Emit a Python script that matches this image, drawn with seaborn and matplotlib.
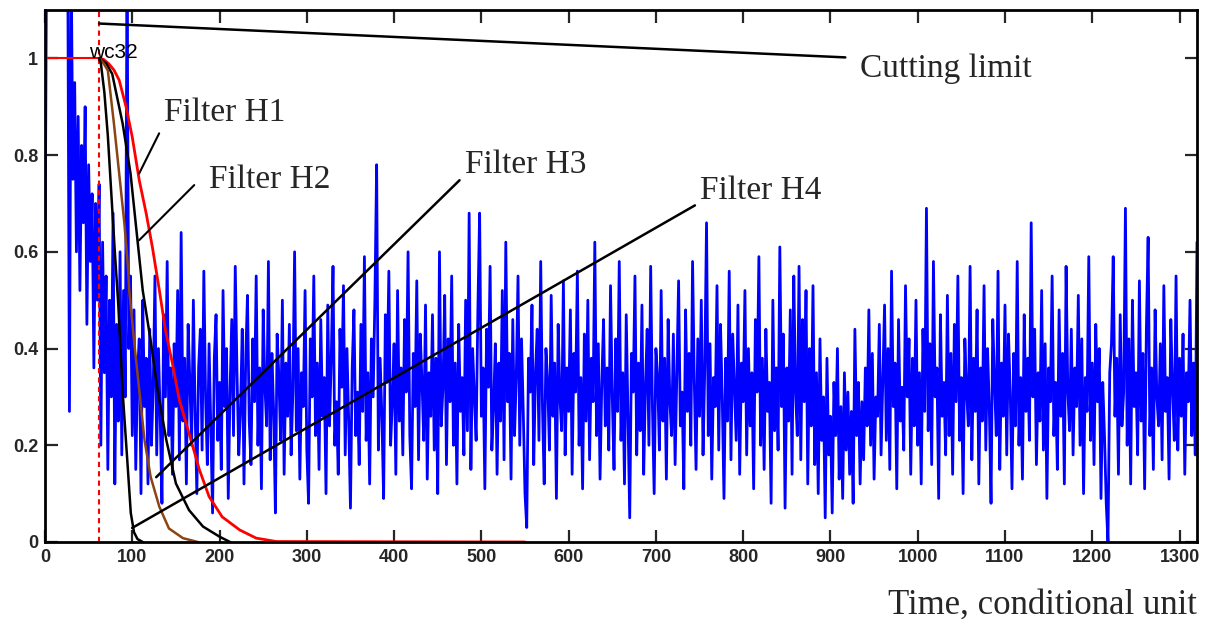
import numpy as np
import pandas as pd
import matplotlib
matplotlib.use("Agg")
import matplotlib.pyplot as plt
import seaborn as sns

# Noisy measured signal, sampled every 2 time units from 0 to 1320
signal = [
    0.55, 1.30, 1.40, 1.50, 1.35, 1.45, 1.30, 1.50, 1.40, 1.35, 1.45, 1.30, 1.40, 1.25, 0.27, 1.20, 0.75, 0.95, 0.60, 0.88,
    0.52, 0.82, 0.66, 0.90, 0.45, 0.78, 0.58, 0.72, 0.36, 0.70, 0.50, 0.74, 0.20, 0.62, 0.35, 0.55, 0.15, 0.50, 0.30, 0.68,
    0.12, 0.45, 0.25, 0.60, 0.18, 0.52, 0.30, 1.20, 0.40, 0.55, 0.22, 0.48, 0.15, 0.35, 0.42, 0.10, 0.50, 0.28, 0.38, 0.12,
    0.44, 0.20, 0.32, 0.55, 0.18, 0.40, 0.26, 0.08, 0.47, 0.30, 0.58, 0.22, 0.36, 0.14, 0.41, 0.28, 0.52, 0.17, 0.64, 0.25,
    0.38, 0.12, 0.45, 0.33, 0.20, 0.50, 0.27, 0.10, 0.36, 0.44, 0.19, 0.56, 0.30, 0.16, 0.41, 0.24, 0.06, 0.38, 0.47, 0.21,
    0.33, 0.15, 0.52, 0.28, 0.40, 0.09, 0.31, 0.46, 0.22, 0.57, 0.35, 0.18, 0.27, 0.44, 0.12, 0.38, 0.51, 0.25, 0.16, 0.42,
    0.29, 0.55, 0.20, 0.36, 0.11, 0.48, 0.32, 0.24, 0.58, 0.17, 0.39, 0.27, 0.06, 0.43, 0.34, 0.21, 0.50, 0.14, 0.37, 0.26,
    0.45, 0.18, 0.31, 0.60, 0.23, 0.40, 0.13, 0.35, 0.28, 0.52, 0.19, 0.08, 0.42, 0.30, 0.55, 0.22, 0.37, 0.15, 0.46, 0.26,
    0.34, 0.10, 0.49, 0.24, 0.38, 0.57, 0.20, 0.29, 0.14, 0.44, 0.32, 0.53, 0.18, 0.40, 0.25, 0.07, 0.36, 0.48, 0.22, 0.31,
    0.16, 0.45, 0.27, 0.59, 0.21, 0.35, 0.12, 0.42, 0.30, 0.50, 0.78, 0.19, 0.38, 0.26, 0.09, 0.47, 0.33, 0.56, 0.20, 0.29,
    0.41, 0.14, 0.52, 0.25, 0.36, 0.18, 0.46, 0.31, 0.60, 0.22, 0.11, 0.39, 0.28, 0.54, 0.17, 0.43, 0.33, 0.21, 0.49, 0.13,
    0.35, 0.26, 0.47, 0.19, 0.38, 0.10, 0.60, 0.24, 0.32, 0.51, 0.16, 0.42, 0.29, 0.55, 0.20, 0.37, 0.12, 0.45, 0.27, 0.34,
    0.18, 0.50, 0.23, 0.68, 0.15, 0.40, 0.30, 0.21, 0.48, 0.68, 0.26, 0.36, 0.11, 0.44, 0.32, 0.57, 0.19, 0.28, 0.41, 0.14,
    0.37, 0.25, 0.52, 0.17, 0.62, 0.29, 0.39, 0.13, 0.46, 0.22, 0.34, 0.55, 0.20, 0.42, 0.27, 0.10, 0.03, 0.38, 0.31, 0.49,
    0.16, 0.35, 0.44, 0.21, 0.58, 0.28, 0.12, 0.40, 0.33, 0.19, 0.51, 0.26, 0.37, 0.09, 0.45, 0.30, 0.23, 0.54, 0.18, 0.36,
    0.27, 0.48, 0.14, 0.39, 0.31, 0.56, 0.20, 0.34, 0.11, 0.43, 0.25, 0.50, 0.17, 0.38, 0.29, 0.62, 0.22, 0.41, 0.13, 0.33,
    0.46, 0.24, 0.36, 0.19, 0.53, 0.30, 0.15, 0.42, 0.27, 0.58, 0.21, 0.35, 0.12, 0.47, 0.26, 0.05, 0.39, 0.31, 0.55, 0.18,
    0.37, 0.23, 0.49, 0.14, 0.32, 0.44, 0.20, 0.57, 0.28, 0.10, 0.40, 0.34, 0.19, 0.52, 0.25, 0.38, 0.13, 0.46, 0.29, 0.22,
    0.43, 0.16, 0.35, 0.54, 0.24, 0.31, 0.11, 0.48, 0.27, 0.39, 0.20, 0.58, 0.33, 0.15, 0.42, 0.26, 0.50, 0.18, 0.36, 0.66,
    0.22, 0.41, 0.13, 0.34, 0.28, 0.53, 0.19, 0.45, 0.30, 0.09, 0.38, 0.25, 0.56, 0.17, 0.43, 0.32, 0.21, 0.49, 0.14, 0.37,
    0.29, 0.52, 0.18, 0.40, 0.24, 0.35, 0.11, 0.46, 0.31, 0.59, 0.20, 0.38, 0.15, 0.44, 0.27, 0.33, 0.08, 0.50, 0.23, 0.36,
    0.19, 0.61, 0.28, 0.43, 0.07, 0.36, 0.25, 0.48, 0.14, 0.55, 0.31, 0.22, 0.57, 0.17, 0.46, 0.29, 0.52, 0.12, 0.40, 0.24,
    0.53, 0.16, 0.35, 0.10, 0.42, 0.21, 0.30, 0.05, 0.38, 0.18, 0.26, 0.06, 0.33, 0.22, 0.40, 0.13, 0.28, 0.09, 0.35, 0.19,
    0.31, 0.14, 0.27, 0.08, 0.44, 0.22, 0.33, 0.12, 0.29, 0.17, 0.36, 0.24, 0.48, 0.20, 0.39, 0.13, 0.30, 0.26, 0.45, 0.18,
    0.34, 0.49, 0.21, 0.40, 0.15, 0.56, 0.28, 0.37, 0.11, 0.46, 0.25, 0.32, 0.19, 0.53, 0.30, 0.42, 0.14, 0.38, 0.24, 0.50,
    0.20, 0.35, 0.12, 0.44, 0.27, 0.69, 0.23, 0.41, 0.16, 0.58, 0.30, 0.36, 0.09, 0.47, 0.26, 0.33, 0.18, 0.51, 0.22, 0.39,
    0.14, 0.45, 0.29, 0.55, 0.21, 0.34, 0.10, 0.42, 0.31, 0.24, 0.57, 0.17, 0.38, 0.27, 0.48, 0.12, 0.36, 0.25, 0.53, 0.19,
    0.40, 0.28, 0.08, 0.46, 0.33, 0.22, 0.56, 0.15, 0.37, 0.26, 0.49, 0.18, 0.43, 0.31, 0.11, 0.39, 0.24, 0.58, 0.20, 0.34,
    0.13, 0.47, 0.27, 0.38, 0.21, 0.66, 0.30, 0.44, 0.16, 0.35, 0.25, 0.52, 0.19, 0.41, 0.09, 0.36, 0.29, 0.55, 0.22, 0.33,
    0.15, 0.48, 0.26, 0.39, 0.12, 0.57, 0.31, 0.23, 0.44, 0.18, 0.36, 0.28, 0.51, 0.20, 0.42, 0.10, 0.34, 0.27, 0.59, 0.21,
    0.37, 0.16, 0.45, 0.29, 0.40, 0.09, 0.33, 0.22, 0.08, 0.00, 0.35, 0.41, 0.59, 0.26, 0.38, 0.14, 0.47, 0.24, 0.31, 0.69,
    0.20, 0.42, 0.12, 0.50, 0.28, 0.35, 0.18, 0.54, 0.25, 0.39, 0.11, 0.44, 0.63, 0.22, 0.36, 0.15, 0.48, 0.30, 0.24, 0.41,
    0.17, 0.53, 0.27, 0.34, 0.13, 0.46, 0.32, 0.21, 0.55, 0.19, 0.38, 0.26, 0.43, 0.14, 0.35, 0.29, 0.50, 0.22, 0.37, 0.18,
    0.62,
]
signal_time = np.arange(0, 2 * len(signal), 2)

# Filter responses (time, amplitude)
h1_time = [62, 67, 73, 79, 85, 93, 100, 108, 116, 123, 131, 138, 146, 154, 165, 177, 188, 203, 223, 242, 265, 550]
h1_amp = [1.0, 0.998, 0.989, 0.976, 0.955, 0.899, 0.837, 0.748, 0.679, 0.610, 0.521, 0.438, 0.369, 0.293, 0.225,
          0.149, 0.094, 0.052, 0.025, 0.008, 0.001, 0.0]

h2_time = [62, 70, 77, 89, 98, 104, 108, 112, 121, 129, 139, 150, 165, 181, 200, 212]
h2_amp = [1.0, 0.99, 0.968, 0.865, 0.762, 0.658, 0.589, 0.52, 0.417, 0.314, 0.211, 0.121, 0.066, 0.032, 0.011, 0.0]

h3_time = [62, 67, 72, 79, 85, 91, 95, 96.5, 102, 108, 114, 121, 131, 142, 158, 175]
h3_amp = [1.0, 0.99, 0.975, 0.865, 0.762, 0.658, 0.570, 0.521, 0.417, 0.314, 0.211, 0.135, 0.073, 0.028, 0.008, 0.0]

h4_time = [62, 64, 68, 72, 76, 80, 84, 89, 94.5, 98.3, 102, 106, 112]
h4_amp = [1.0, 0.99, 0.93, 0.84, 0.72, 0.60, 0.49, 0.31, 0.163, 0.06, 0.02, 0.006, 0.0]

cut_time = 62
x_ticks = list(range(0, 1301, 100))
y_ticks = [0, 0.2, 0.4, 0.6, 0.8, 1]
y_tick_labels = ["0", "0.2", "0.4", "0.6", "0.8", "1"]

sns.set_style("ticks")
plt.rcParams["font.family"] = ["Liberation Sans Narrow", "Liberation Sans", "DejaVu Sans"]

fig = plt.figure(figsize=(12.16, 6.25), dpi=100)
ax = fig.add_axes([45 / 1216, 83 / 625, 1152 / 1216, 532 / 625])

sig_df = pd.DataFrame({"t": signal_time, "v": signal})
sns.lineplot(data=sig_df, x="t", y="v", ax=ax, color="#0000ff", linewidth=2.0,
             estimator=None, sort=False)

# Reference level before the cut and the cut instant
sns.lineplot(x=[0, cut_time], y=[1, 1], ax=ax, color="#ff0000", linewidth=1.5, estimator=None)
ax.axvline(cut_time, color="#ff0000", linestyle=(0, (2.5, 2)), linewidth=1.5)

filters = [
    (h1_time, h1_amp, "#ff0000", 2.0),
    (h2_time, h2_amp, "#000000", 1.8),
    (h3_time, h3_amp, "#8b4513", 1.8),
    (h4_time, h4_amp, "#000000", 1.8),
]
for t, a, c, lw in filters:
    sns.lineplot(x=t, y=a, ax=ax, color=c, linewidth=lw, estimator=None, sort=False)

serif = ["Liberation Serif", "DejaVu Serif"]
label_size = 24

# Cutting limit line and label
ax.plot([62, 917], [1.072, 1.002], color="black", linewidth=1.8)
ax.text(934, 0.979, "Cutting limit", fontsize=label_size, family=serif, va="center", ha="left")

# Filter labels with leader lines
ax.text(136.5, 0.888, "Filter H1", fontsize=label_size, family=serif, va="center", ha="left")
ax.plot([130.8, 107.9], [0.845, 0.762], color="black", linewidth=1.5)

ax.text(188, 0.748, "Filter H2", fontsize=label_size, family=serif, va="center", ha="left")
ax.plot([171, 107.9], [0.738, 0.624], color="black", linewidth=1.5)

ax.text(481, 0.779, "Filter H3", fontsize=label_size, family=serif, va="center", ha="left")
ax.plot([475, 127.4], [0.748, 0.134], color="black", linewidth=1.8)

ax.text(750, 0.727, "Filter H4", fontsize=label_size, family=serif, va="center", ha="left")
ax.plot([744.7, 99.8], [0.696, 0.029], color="black", linewidth=1.8)

ax.text(78, 1.012, "wc32", fontsize=15, ha="center", va="center", color="black")

ax.set_xlim(0, 1320)
ax.set_ylim(0, 1.1)
ax.set_xticks(x_ticks)
ax.set_yticks(y_ticks)
ax.set_yticklabels(y_tick_labels)
ax.set_xlabel("")
ax.set_ylabel("")
ax.tick_params(direction="in", length=9, width=1.6, top=True, right=True,
               labelsize=13, pad=5)
for lab in ax.get_xticklabels() + ax.get_yticklabels():
    lab.set_fontweight("bold")
for sp in ax.spines.values():
    sp.set_visible(True)
    sp.set_linewidth(2.0)
    sp.set_color("black")

fig.text(1197 / 1216, 1 - 605 / 625, "Time, conditional unit", fontsize=25,
         family=serif, ha="right", va="center")

fig.savefig("out.png", dpi=100, facecolor="white")
